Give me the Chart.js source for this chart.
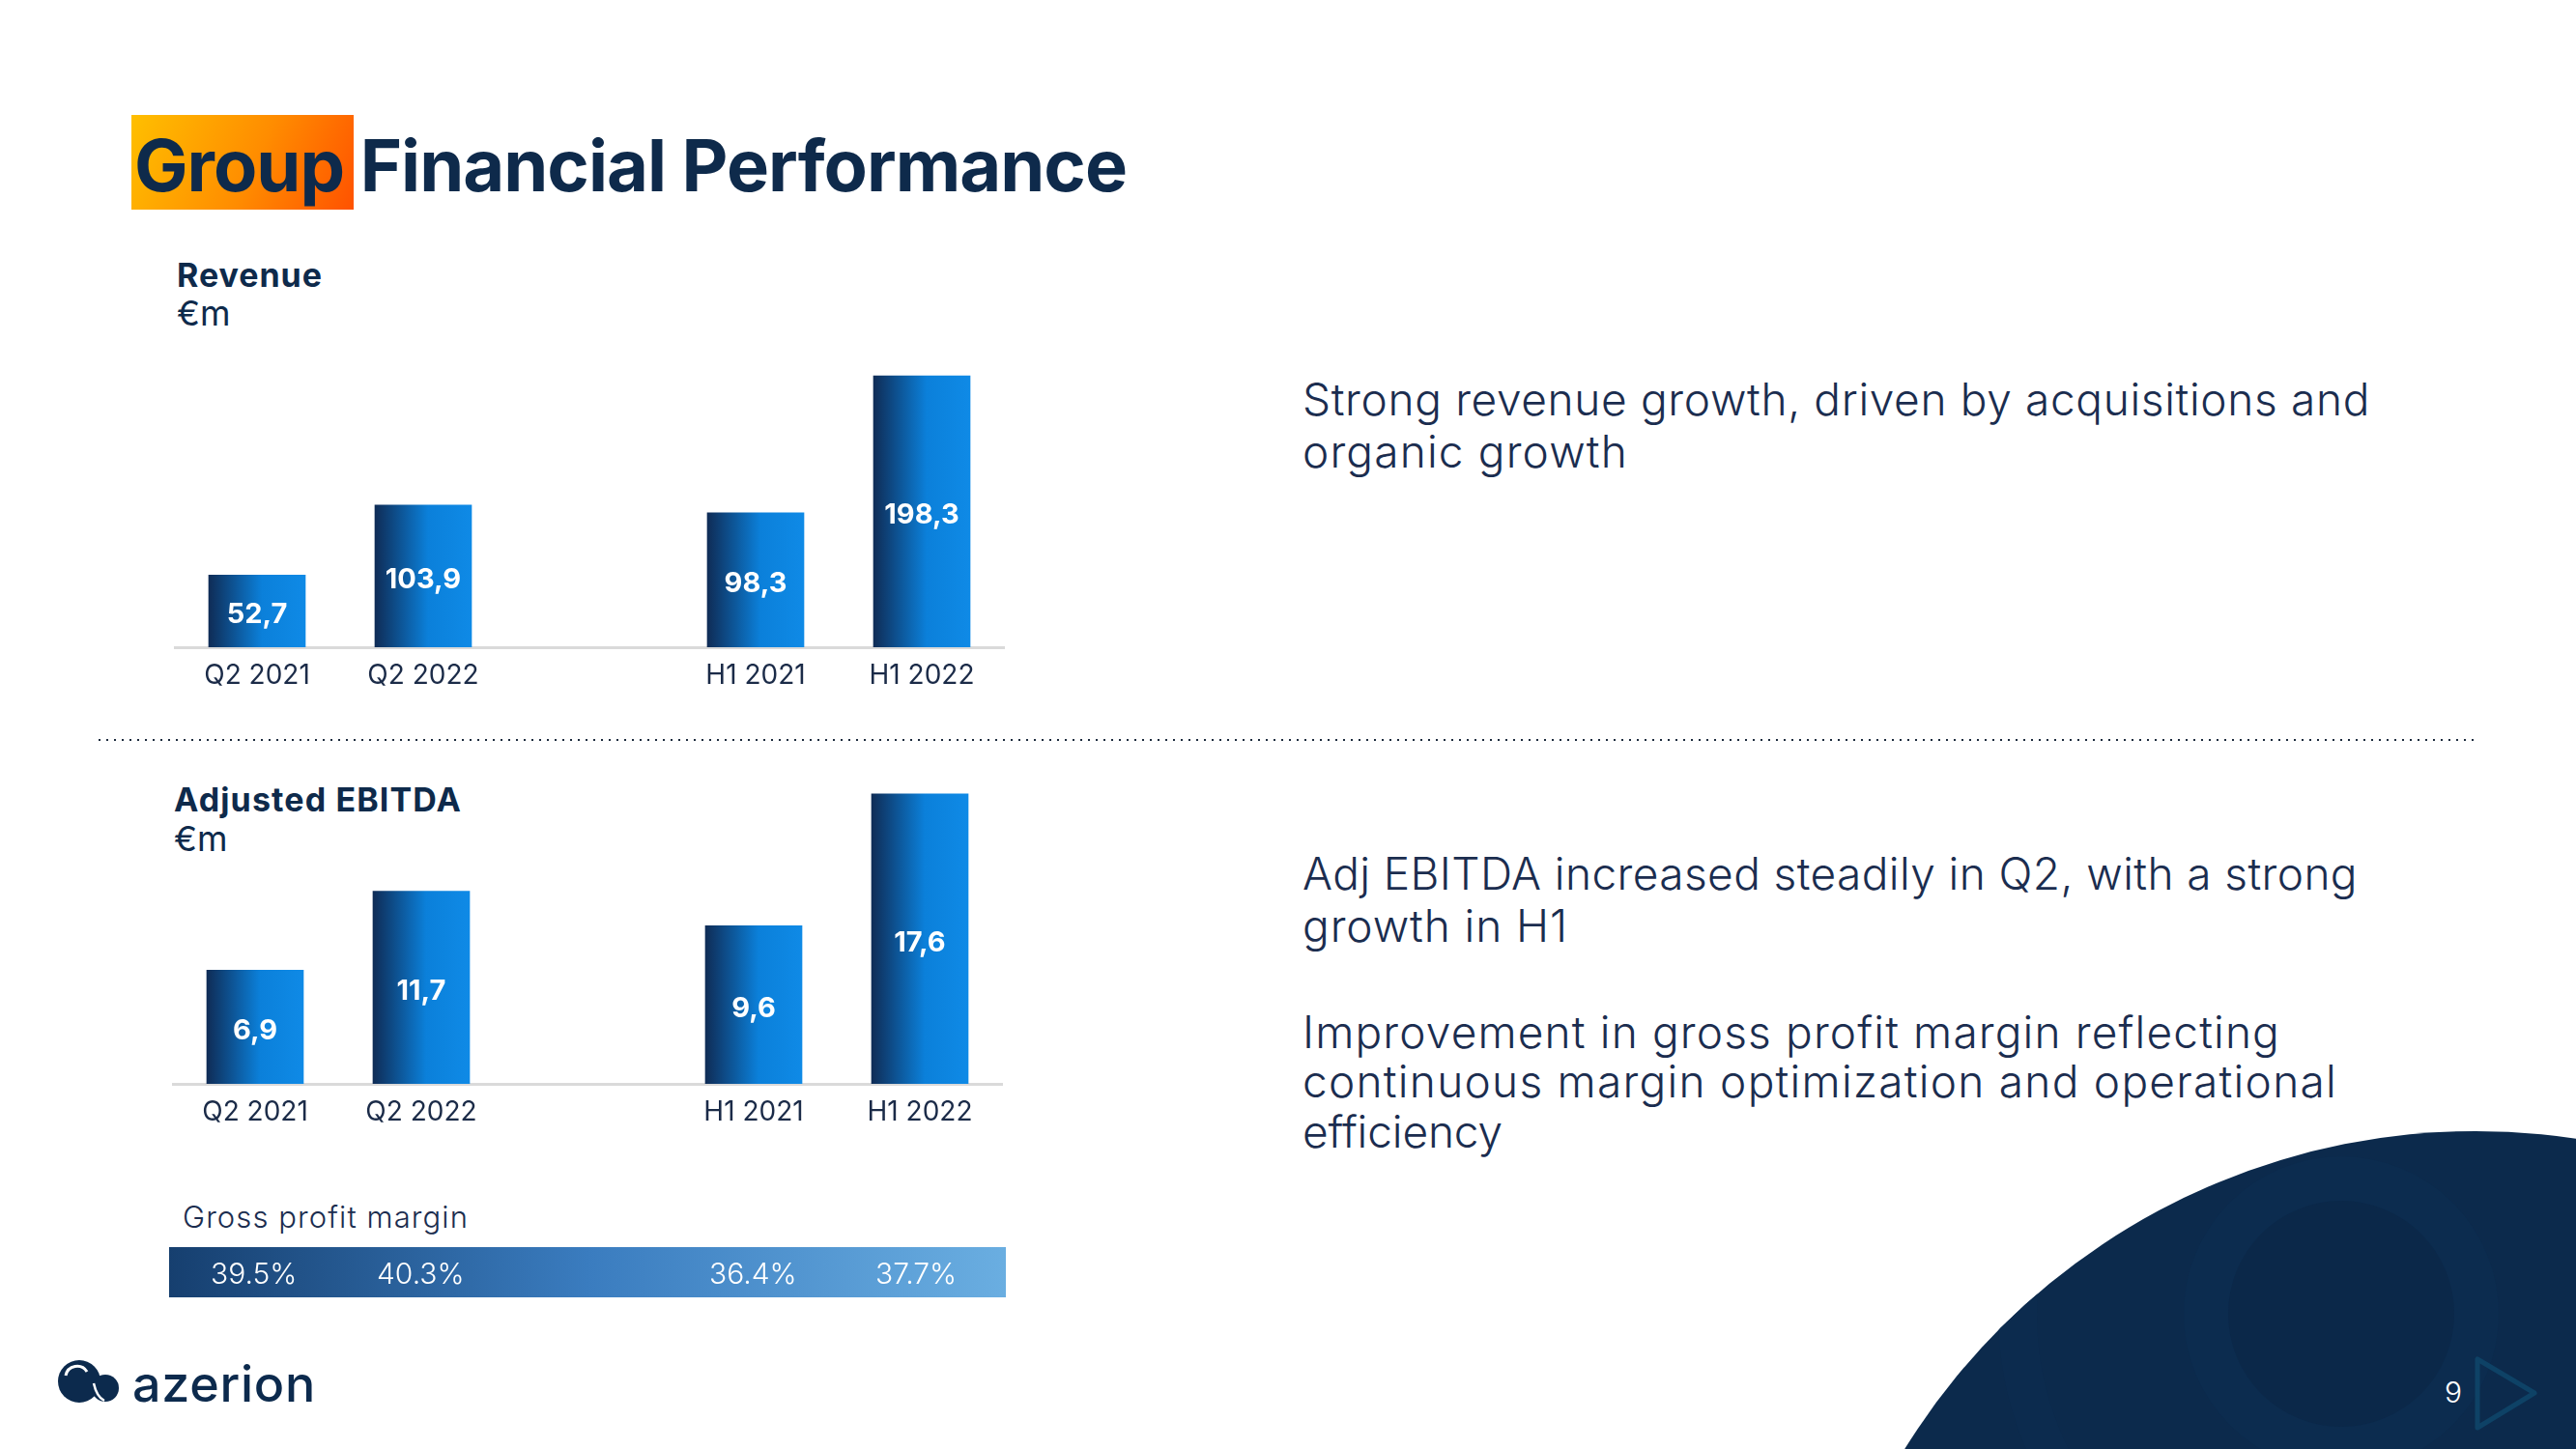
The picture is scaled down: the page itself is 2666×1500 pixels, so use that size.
<!DOCTYPE html>
<html>
<head>
<meta charset="utf-8">
<title>Group Financial Performance</title>
<script src="https://cdn.jsdelivr.net/npm/chart.js@4.4.0/dist/chart.umd.min.js"></script>
<style>
  html, body { margin: 0; padding: 0; background: #fff; }
  #page { position: relative; width: 2666px; height: 1500px; overflow: hidden;
          font-family: Inter, 'Noto Sans', sans-serif; color: #0e2a4b; }
  #deco { position: absolute; left: 0; top: 0; }
  .t { position: absolute; white-space: nowrap; line-height: 1; }
  .bold { font-weight: 700; }
  .light { font-weight: 300; color: #1b2d4f; }
  canvas { position: absolute; }
  #titleBox { position: absolute; left: 136px; top: 119px; width: 230px; height: 98px;
              background: linear-gradient(115deg, #ffbf00 0%, #ff8c00 55%, #ff5200 100%); }
  #dots { position: absolute; left: 102px; top: 765px; width: 2462px; height: 2px;
          background: repeating-linear-gradient(to right, #1d2b3d 0 2px, transparent 2px 8px); }
</style>
</head>
<body>
<div id="page">
  <svg id="deco" width="2666" height="1500">
    <defs>
      <clipPath id="blob"><circle cx="2562" cy="1866" r="695"/></clipPath>
    </defs>
    <circle cx="2562" cy="1866" r="695" fill="#0c2a4c"/>
    <g clip-path="url(#blob)">
      <circle cx="2423" cy="1360" r="335" fill="none" stroke="#0c2b4e" stroke-width="40"/>
      <circle cx="2423" cy="1360" r="163" fill="#0c2c4f"/>
      <circle cx="2423" cy="1360" r="117" fill="#0b2849"/>
    </g>
    <polygon points="2564,1407 2564,1478 2623,1442" fill="none" stroke="#0e4266" stroke-width="5" stroke-linejoin="round"/>
    <!-- logo mark -->
    <circle cx="82" cy="1430" r="22" fill="#0c2a4d"/>
    <path d="M 68 1424 A 12 12 0 0 1 90 1420" fill="none" stroke="#fff" stroke-width="3"/>
    <circle cx="109" cy="1437" r="14" fill="#0c2a4d"/>
    <path d="M 97 1432 Q 100 1446 108 1450" fill="none" stroke="#fff" stroke-width="2.5"/>
  </svg>

  <div id="titleBox"></div>
  <div class="t bold" style="font-size:74px" data-x="139" data-b="198" data-w="1027">Group Financial Performance</div>

  <div class="t bold" style="font-size:34px" data-x="183" data-b="297" data-w="151">Revenue</div>
  <div class="t" style="font-size:36px;font-weight:400" data-x="183" data-b="337">€m</div>

  <div id="dots"></div>

  <div class="t bold" style="font-size:34px" data-x="180" data-b="840" data-w="298">Adjusted EBITDA</div>
  <div class="t" style="font-size:36px;font-weight:400" data-x="180" data-b="881">€m</div>

  <div class="t light" style="font-size:31px" data-x="189" data-b="1271" data-w="296">Gross profit margin</div>

  <div class="t light" style="font-size:46px" data-x="1348" data-b="430" data-w="1105">Strong revenue growth, driven by acquisitions and</div>
  <div class="t light" style="font-size:46px" data-x="1348" data-b="484" data-w="337">organic growth</div>
  <div class="t light" style="font-size:46px" data-x="1348" data-b="921" data-w="1092">Adj EBITDA increased steadily in Q2, with a strong</div>
  <div class="t light" style="font-size:46px" data-x="1348" data-b="975" data-w="275">growth in H1</div>
  <div class="t light" style="font-size:46px" data-x="1348" data-b="1085" data-w="1012">Improvement in gross profit margin reflecting</div>
  <div class="t light" style="font-size:46px" data-x="1348" data-b="1136" data-w="1071">continuous margin optimization and operational</div>
  <div class="t light" style="font-size:46px" data-x="1348" data-b="1188" data-w="207">efficiency</div>

  <div class="t" style="font-size:52px;font-weight:500;color:#0c2a4d" data-x="137" data-b="1452" data-w="190">azerion</div>
  <div class="t" style="font-size:30px;font-weight:300;color:#fff" data-x="2530" data-b="1452">9</div>

  <canvas id="revenueChart" width="860" height="400" style="left:180px;top:330px"></canvas>
  <canvas id="ebitdaChart" width="860" height="401" style="left:178px;top:781px"></canvas>
  <canvas id="marginChart" width="866" height="52" style="left:175px;top:1291px"></canvas>
</div>

<script>
// Chart data
const categories = ['Q2 2021', 'Q2 2022', '', 'H1 2021', 'H1 2022'];
const revenueValues = [52.7, 103.9, null, 98.3, 198.3];
const ebitdaValues = [6.9, 11.7, null, 9.6, 17.6];
const grossMarginValues = [39.5, 40.3, null, 36.4, 37.7];
const revenueMax = 240;
const ebitdaMax = 20;

const BAR_W = 100;

// Place text by baseline and stretch to the measured width
document.querySelectorAll('.t').forEach(el => {
    const size = parseFloat(el.style.fontSize);
    el.style.left = el.dataset.x + 'px';
    el.style.top = (+el.dataset.b - 0.863 * size) + 'px';
    if (el.dataset.w) {
        const w = el.getBoundingClientRect().width;
        el.style.letterSpacing = ((+el.dataset.w - w) / el.textContent.length) + 'px';
    }
});

// Horizontal dark-to-bright gradient for each bar
function barFill(context) {
    const chart = context.chart;
    if (!chart.chartArea || context.type !== 'data') return '#0b84e0';
    const x = chart.scales.x.getPixelForValue(context.dataIndex);
    const g = chart.ctx.createLinearGradient(x - BAR_W / 2, 0, x + BAR_W / 2, 0);
    g.addColorStop(0, '#0f2c56');
    g.addColorStop(0.55, '#0b80da');
    g.addColorStop(1, '#0f8ae6');
    return g;
}

// White value labels in the middle of each bar
const valueLabels = {
    id: 'valueLabels',
    afterDatasetsDraw(chart) {
        const ctx = chart.ctx;
        const values = chart.data.datasets[0].data;
        ctx.save();
        ctx.font = '700 29px Inter';
        ctx.fillStyle = '#fff';
        ctx.textAlign = 'center';
        ctx.textBaseline = 'middle';
        chart.getDatasetMeta(0).data.forEach((bar, i) => {
            if (values[i] == null) return;
            ctx.fillText(values[i].toFixed(1).replace('.', ','), bar.x, (bar.y + bar.base) / 2 + 4);
        });
        ctx.restore();
    }
};

function makeBarChart(id, values, yMax) {
    return new Chart(document.getElementById(id), {
        type: 'bar',
        data: {
            labels: categories,
            datasets: [{ data: values, backgroundColor: barFill, barThickness: BAR_W, borderWidth: 0 }]
        },
        options: {
            responsive: false,
            animation: false,
            devicePixelRatio: 1,
            layout: { padding: 0 },
            plugins: { legend: { display: false }, tooltip: { enabled: false } },
            scales: {
                x: {
                    grid: { display: true, drawOnChartArea: false, drawTicks: false },
                    border: { display: true, color: '#dadada', width: 3 },
                    ticks: { color: '#1b2b48', font: { family: 'Inter', size: 28 }, padding: 13,
                             autoSkip: false, maxRotation: 0 },
                    afterFit: scale => { scale.height = 60; }
                },
                y: { display: false, min: 0, max: yMax }
            }
        },
        plugins: [valueLabels]
    });
}

// Gradient strip with the gross profit margins
const marginBand = {
    id: 'marginBand',
    beforeDraw(chart) {
        const ctx = chart.ctx;
        const g = ctx.createLinearGradient(0, 0, chart.width, 0);
        g.addColorStop(0, '#163f6f');
        g.addColorStop(0.5, '#3a7cbf');
        g.addColorStop(1, '#6aaee1');
        ctx.save();
        ctx.fillStyle = g;
        ctx.fillRect(0, 0, chart.width, chart.height);
        ctx.restore();
    },
    afterDatasetsDraw(chart) {
        const ctx = chart.ctx;
        const values = chart.data.datasets[0].data;
        ctx.save();
        ctx.font = '300 30px Inter';
        ctx.fillStyle = '#fff';
        ctx.textAlign = 'left';
        ctx.textBaseline = 'middle';
        chart.getDatasetMeta(0).data.forEach((bar, i) => {
            if (values[i] == null) return;
            ctx.fillText(values[i].toFixed(1) + '%', bar.x - BAR_W / 2 + 2, 29);
        });
        ctx.restore();
    }
};

document.addEventListener('DOMContentLoaded', function () {
    makeBarChart('revenueChart', revenueValues, revenueMax);
    makeBarChart('ebitdaChart', ebitdaValues, ebitdaMax);

    new Chart(document.getElementById('marginChart'), {
        type: 'bar',
        data: {
            labels: categories,
            datasets: [{ data: grossMarginValues, backgroundColor: 'rgba(0,0,0,0)', barThickness: BAR_W }]
        },
        options: {
            responsive: false,
            animation: false,
            devicePixelRatio: 1,
            layout: { padding: { left: 5, right: 1, top: 0, bottom: 0 } },
            plugins: { legend: { display: false }, tooltip: { enabled: false } },
            scales: { x: { display: false }, y: { display: false, min: 0, max: 100 } }
        },
        plugins: [marginBand]
    });
});
</script>
</body>
</html>
